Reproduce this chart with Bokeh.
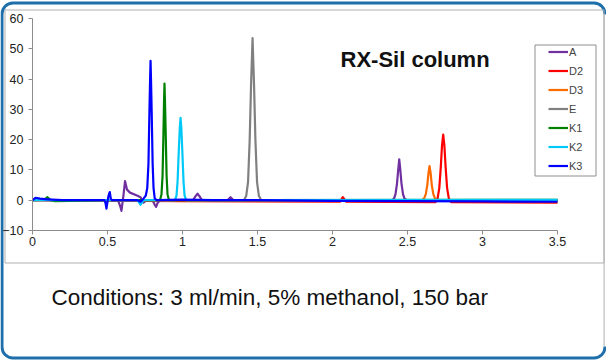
from bokeh.plotting import figure
from bokeh.models import Range1d, Legend, LegendItem, BoxAnnotation, Label, FixedTicker
from bokeh.embed import file_html
from bokeh.resources import INLINE

# ---- data ----
x_ticks = [0, 0.5, 1, 1.5, 2, 2.5, 3, 3.5]
y_ticks = [-10, 0, 10, 20, 30, 40, 50, 60]
series_names = ["A", "D2", "D3", "E", "K1", "K2", "K3"]
series_colors = ["#7030a0", "#ff0000", "#ff6a00", "#808080", "#008000", "#00c8f8", "#0000ff"]

a_x = [0, 0.3, 0.57, 0.585, 0.593, 0.605, 0.617, 0.63, 0.65, 0.70, 0.72, 0.74, 0.76, 0.80,
       0.815, 0.824, 0.835, 0.85, 1.07, 1.085, 1.10, 1.115, 1.13, 1.30, 1.32, 1.34,
       2.398, 2.41, 2.42, 2.43, 2.438, 2.445, 2.452, 2.46, 2.47, 2.48, 2.495, 3.5]
a_y = [0, 0, 0, -2, -3.5, 1, 6.3, 3.5, 2.5, 1.5, 1, -0.8, 0, 0,
       -1.5, -2.2, -0.8, 0, 0, 1.2, 2.2, 1.2, 0, 0, 1.0, 0,
       0, 0.5, 2, 5.5, 10, 13.5, 10, 5.5, 2, 0.5, 0, -0.2]

d2_x = [0, 1.0, 2.05, 2.062, 2.069, 2.076, 2.09, 2.687, 2.70, 2.712, 2.722, 2.73, 2.738,
        2.746, 2.754, 2.764, 2.776, 2.79, 3.5]
d2_y = [0, -0.3, -0.5, 0.5, 1.0, 0.5, -0.5, -0.6, 0.5, 4, 11, 18, 21.7,
        18, 11, 4, 0.5, -0.6, -0.8]

d3_x = [0, 2.598, 2.61, 2.622, 2.632, 2.64, 2.647, 2.654, 2.662, 2.672, 2.684, 2.695, 3.5]
d3_y = [0, 0, 0.5, 2, 5, 9, 11.3, 9, 5, 2, 0.5, 0, -0.3]

e_x = [0, 1.41, 1.425, 1.437, 1.448, 1.457, 1.467, 1.477, 1.486, 1.497, 1.509, 1.525, 3.5]
e_y = [0, 0, 1.5, 6, 20, 38, 53.5, 38, 20, 6, 1.5, 0, 0]

k1_x = [0, 0.08, 0.1, 0.12, 0.15, 0.25, 0.5, 0.85, 0.86, 0.867, 0.873, 0.877, 0.88,
        0.883, 0.888, 0.894, 0.9, 0.91, 3.5]
k1_y = [0, 0.2, 1.0, 0, -0.3, -0.2, 0, 0, 2, 8, 22, 33, 38.5,
        33, 22, 8, 2, 0, 0.1]

k2_x = [0, 0.7, 0.72, 0.74, 0.95, 0.96, 0.967, 0.975, 0.982, 0.987, 0.992, 0.999, 1.007,
        1.014, 1.025, 3.5]
k2_y = [0, 0, -1.5, 0, 0, 1.5, 6, 16, 24, 27.2, 24, 16, 6,
        1.5, 0, 0.1]

k3_x = [0, 0.02, 0.05, 0.1, 0.2, 0.48, 0.487, 0.493, 0.50, 0.507, 0.515, 0.522, 0.53, 0.70,
        0.72, 0.74, 0.755, 0.765, 0.773, 0.779, 0.784, 0.787, 0.790, 0.795, 0.801, 0.807,
        0.815, 0.83, 1.0, 1.2, 1.5, 2.0, 2.5, 3.0, 3.5]
k3_y = [0, 0.8, 0.5, 0.3, 0, 0, -1, -2.8, -0.5, 1.5, 2.7, 0.5, 0, 0,
        -0.5, 0.5, 1.5, 4, 12, 28, 40, 46, 40, 28, 12, 4,
        0.5, 0, 0.2, 0, 0, -0.2, -0.3, -0.4, -0.5]

series_x = [a_x, d2_x, d3_x, e_x, k1_x, k2_x, k3_x]
series_y = [a_y, d2_y, d3_y, e_y, k1_y, k2_y, k3_y]

title_text = "RX-Sil column"
conditions_text = "Conditions: 3 ml/min, 5% methanol, 150 bar"

# ---- layout: the frame fills the whole canvas; axes sit at fixed locations ----
W, H = 606, 360
X0_PX, X1_PX = 32, 557      # pixel of x=0 and x=3.5
Y60_PX, YM10_PX = 18, 230   # pixel of y=60 and y=-10
sx = (X1_PX - X0_PX) / 3.5
sy = (YM10_PX - Y60_PX) / 70.0
x_start = -X0_PX / sx
x_end = 3.5 + (W - X1_PX) / sx
y_end = 60 + Y60_PX / sy
y_start = -10 - (H - YM10_PX) / sy


def dx(px):
    return x_start + px / sx


def dy(py):
    return y_end - py / sy


FONT = "Liberation Sans"

p = figure(width=W, height=H, output_backend="svg", toolbar_location=None,
           x_range=Range1d(x_start, x_end), y_range=Range1d(y_start, y_end),
           min_border=0)
p.outline_line_color = None
p.background_fill_color = "white"
p.border_fill_color = "white"
p.xgrid.visible = False
p.ygrid.visible = False

p.xaxis[0].fixed_location = -10
p.xaxis[0].bounds = (0, 3.5)
p.yaxis[0].fixed_location = 0
p.yaxis[0].bounds = (-10, 60)
for ax, ticks in ((p.xaxis[0], x_ticks), (p.yaxis[0], y_ticks)):
    ax.ticker = FixedTicker(ticks=ticks)
    ax.axis_line_color = "#8c8c8c"
    ax.major_tick_line_color = "#8c8c8c"
    ax.major_tick_in = 0
    ax.major_tick_out = 4
    ax.minor_tick_line_color = None
    ax.major_label_text_font = FONT
    ax.major_label_text_font_size = "12.5px"
    ax.major_label_text_color = "#222222"
p.xaxis[0].major_label_standoff = 2
p.yaxis[0].major_label_standoff = 5
p.xaxis[0].major_label_overrides = {0: "0", 1: "1", 2: "2", 3: "3"}


def frame_box(l, t, r, b, **kw):
    return BoxAnnotation(left=dx(l), right=dx(r), top=dy(t), bottom=dy(b),
                         level="underlay", **kw)


# decorative frames (drawn beneath the data)
p.add_layout(frame_box(1.5, 2.5, 604.5, 357.5, fill_alpha=0, line_color="#1f6fab",
                       line_alpha=1, line_width=3, border_radius=11))
p.add_layout(frame_box(601.5, 14, 606, 346, fill_color="white", fill_alpha=1,
                       line_color=None))
p.add_layout(frame_box(603, 14, 604.2, 346, fill_color="#bdbdbd", fill_alpha=1,
                       line_color=None))
p.add_layout(frame_box(4.5, 9.5, 603.5, 262.5, fill_alpha=0, line_color="#b0b0b0",
                       line_alpha=1, line_width=1))
p.add_layout(frame_box(534.5, 44.5, 595.5, 175.5, fill_alpha=0, line_color="#8f8f8f",
                       line_alpha=1, line_width=1))

items = []
for name, color, xs, ys in zip(series_names, series_colors, series_x, series_y):
    r = p.line(xs, ys, line_color=color, line_width=2.2, line_join="round")
    items.append(LegendItem(label=name, renderers=[r]))

legend = Legend(items=items, location=(548, H - 174), orientation="vertical",
                padding=0, margin=0, spacing=2, glyph_width=20, glyph_height=17,
                label_height=17, label_standoff=1, label_text_font=FONT,
                label_text_font_size="11px", border_line_color=None,
                background_fill_alpha=0)
p.add_layout(legend, "center")

p.add_layout(Label(x=dx(340), y=dy(71), text=title_text, text_font=FONT,
                   text_font_size="22px", text_font_style="bold", text_color="#111111"))
p.add_layout(Label(x=dx(51), y=dy(309), text=conditions_text, text_font=FONT,
                   text_font_size="22.5px", text_color="#111111"))

open("out.html", "w").write(file_html(p, INLINE))
